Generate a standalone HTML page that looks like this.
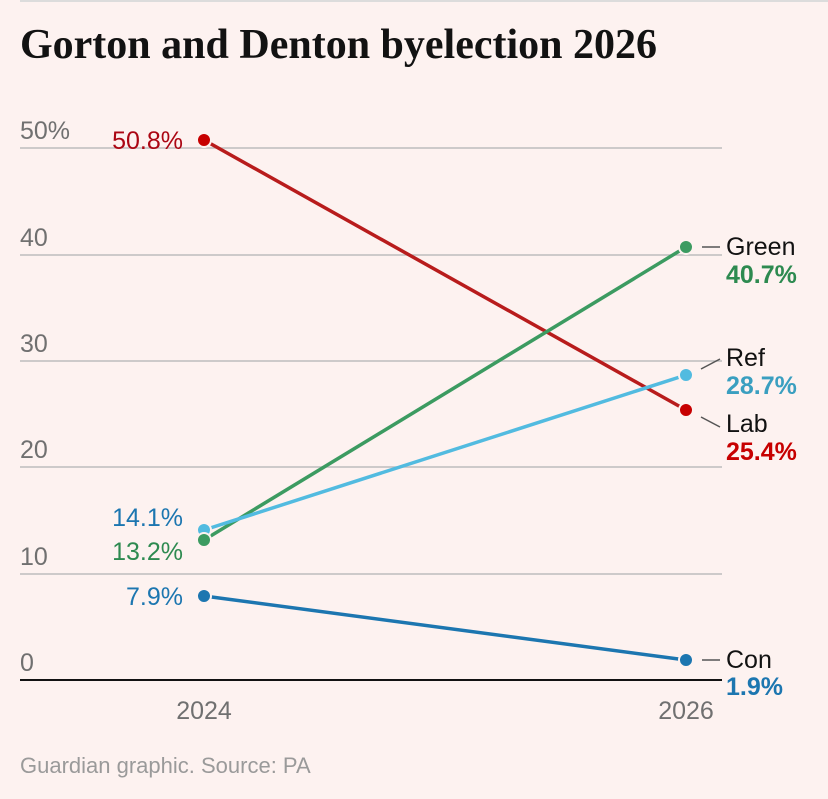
<!DOCTYPE html>
<html><head><style>
body{margin:0;background:#fdf2f0;}
svg{display:block}
</style></head><body>
<svg width="828" height="799" viewBox="0 0 828 799" xmlns="http://www.w3.org/2000/svg">
<rect width="828" height="799" fill="#fdf2f0"/>
<rect x="20" y="0" width="808" height="2" fill="#dcdcdc"/>
<text x="20" y="58" font-family="Liberation Serif, serif" font-weight="bold" font-size="42" fill="#121212">Gorton and Denton byelection 2026</text>
<g stroke="#bdbdbd" stroke-width="1.5">
<line x1="20" y1="148" x2="722" y2="148"/>
<line x1="20" y1="255" x2="722" y2="255"/>
<line x1="20" y1="361" x2="722" y2="361"/>
<line x1="20" y1="467" x2="722" y2="467"/>
<line x1="20" y1="574" x2="722" y2="574"/>
</g>
<line x1="20" y1="680" x2="722" y2="680" stroke="#121212" stroke-width="2"/>
<g font-family="Liberation Sans, sans-serif" font-size="25" fill="#707070">
<text x="20" y="139">50%</text>
<text x="20" y="246">40</text>
<text x="20" y="352">30</text>
<text x="20" y="458">20</text>
<text x="20" y="565">10</text>
<text x="20" y="671">0</text>
<text x="204" y="719" text-anchor="middle">2024</text>
<text x="686" y="719" text-anchor="middle">2026</text>
</g>
<g stroke-width="3.5" fill="none">
<line x1="204" y1="140" x2="686" y2="410" stroke="#b81c1c"/>
<line x1="204" y1="540" x2="686" y2="247" stroke="#3c9b61"/>
<line x1="204" y1="530" x2="686" y2="375" stroke="#52bbe0"/>
<line x1="204" y1="596" x2="686" y2="660" stroke="#1c76b0"/>
</g>
<g stroke="#fdf2f0" stroke-width="2">
<circle cx="204" cy="140" r="7" fill="#c70000"/>
<circle cx="686" cy="410" r="7" fill="#c70000"/>
<circle cx="204" cy="530" r="7" fill="#52bbe0"/>
<circle cx="686" cy="375" r="7" fill="#52bbe0"/>
<circle cx="204" cy="540" r="7" fill="#3c9b61"/>
<circle cx="686" cy="247" r="7" fill="#3c9b61"/>
<circle cx="204" cy="596" r="7" fill="#1c76b0"/>
<circle cx="686" cy="660" r="7" fill="#1c76b0"/>
</g>
<g stroke="#555" stroke-width="1.5">
<line x1="702" y1="247" x2="720" y2="247"/>
<line x1="701" y1="369" x2="720" y2="359"/>
<line x1="701" y1="417" x2="720" y2="427"/>
<line x1="702" y1="660" x2="720" y2="660"/>
</g>
<g font-family="Liberation Sans, sans-serif" font-size="25">
<text x="183" y="149" text-anchor="end" fill="#ab0613">50.8%</text>
<text x="183" y="526" text-anchor="end" fill="#1c76b0">14.1%</text>
<text x="183" y="560" text-anchor="end" fill="#2d8a50">13.2%</text>
<text x="183" y="605" text-anchor="end" fill="#1c76b0">7.9%</text>
<text x="726" y="255" fill="#121212">Green</text>
<text x="726" y="283" fill="#2d8a50" font-weight="bold">40.7%</text>
<text x="726" y="366" fill="#121212">Ref</text>
<text x="726" y="394" fill="#3a9fc0" font-weight="bold">28.7%</text>
<text x="726" y="432" fill="#121212">Lab</text>
<text x="726" y="460" fill="#c70000" font-weight="bold">25.4%</text>
<text x="726" y="668" fill="#121212">Con</text>
<text x="726" y="695" fill="#1c76b0" font-weight="bold">1.9%</text>
</g>
<text x="20" y="773" font-family="Liberation Sans, sans-serif" font-size="22" fill="#9a9a9a">Guardian graphic. Source: PA</text>
</svg>
</body></html>
